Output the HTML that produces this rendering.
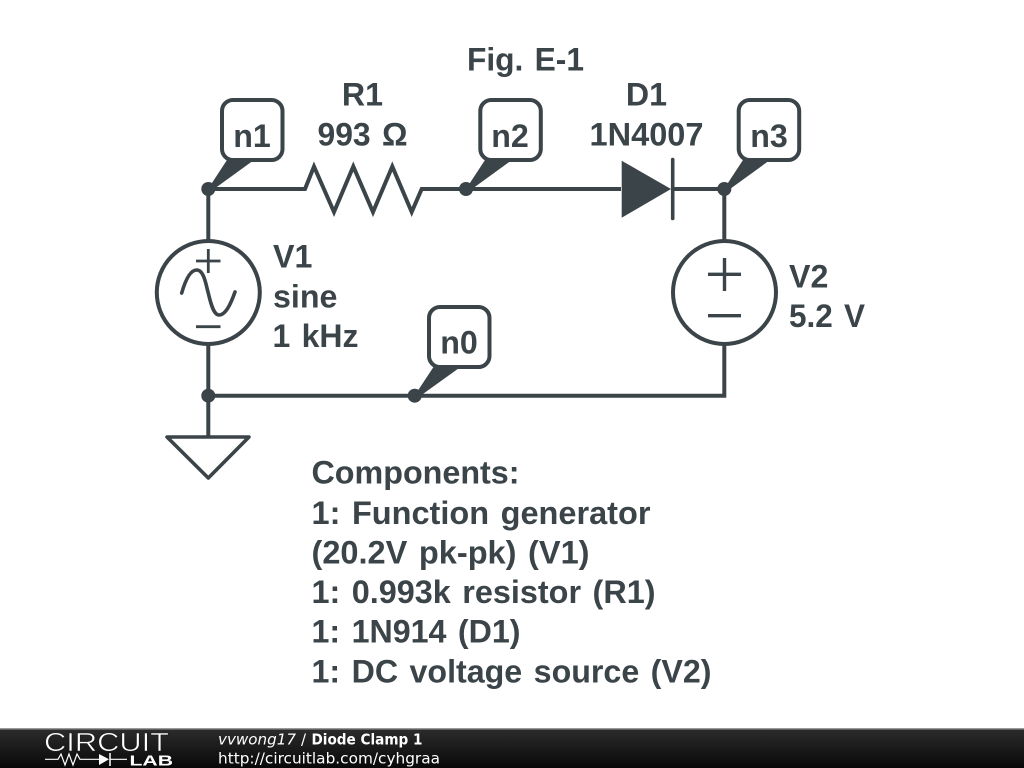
<!DOCTYPE html>
<html><head><meta charset="utf-8"><style>
html,body{margin:0;padding:0;background:#fff;width:1024px;height:768px;overflow:hidden}
svg{display:block}
.t{font-family:"Liberation Sans",sans-serif;font-weight:bold;font-size:32.2px;word-spacing:2.5px;fill:#3b4448}
.f{font-family:"DejaVu Sans",sans-serif;font-size:15px;fill:#fff}
</style></head><body>
<svg width="1024" height="768" viewBox="0 0 1024 768" xmlns="http://www.w3.org/2000/svg">
<defs><linearGradient id="g" x1="0" y1="0" x2="0" y2="1"><stop offset="0" stop-color="#2c2c2c"/><stop offset="1" stop-color="#080808"/></linearGradient></defs>
<rect width="1024" height="768" fill="#fff"/>
<g fill="none" stroke="#3b4448" stroke-width="4" stroke-linejoin="miter">
<path d="M208.300 189H305L314 166.500L334 212L353.300 166.500L373 212L392.300 166.500L411.700 212L421.700 189H621M672 189H724.300V240M724.300 345V395.700H208.300M208.300 189V240M208.300 345V436"/>
<circle cx="208.300" cy="292.500" r="51.500"/>
<circle cx="724.500" cy="292.500" r="51.500"/>
<path d="M167 437H249L208.300 478Z" stroke-linejoin="round" stroke-width="3.600"/>
<path d="M196 261H220.500M208.300 249V273M196 326.700H220.500" stroke-width="2.800"/>
<path d="M181.700 293C186 278 191 270 196.700 270C204 270 206 285 208 292C210 300 213 315 219 315C226 315 231 303 235 292" stroke-linecap="round" stroke-width="3.600"/>
<path d="M708 274.300H741M724.500 258V291M708 315.700H741" stroke-width="3.400"/>
<path d="M672.700 159.500V218.500" stroke-linecap="round" stroke-width="3.600"/>
<rect x="222" y="100" width="60.500" height="60" rx="11" fill="#fff"/>
<rect x="480.300" y="100" width="60.500" height="60" rx="11" fill="#fff"/>
<rect x="738.700" y="100" width="60.500" height="60" rx="11" fill="#fff"/>
<rect x="429" y="307" width="60.500" height="60" rx="11" fill="#fff"/>
</g>
<g fill="#3b4448">
<path d="M621.700 160.700L671 189L621.700 217.700Z"/>
<circle cx="208.300" cy="189" r="7"/><circle cx="466" cy="189" r="7"/><circle cx="724.300" cy="189" r="7"/><circle cx="208.300" cy="395.700" r="7"/><circle cx="414.700" cy="395.700" r="7"/>
<path d="M227 160H254L214 189H208Z"/>
<path d="M485 160H512L472 189H466Z"/>
<path d="M743 160H770L730 189H724Z"/>
<path d="M433.500 367H460.500L420.500 395.700H414.500Z"/>
</g>
<text class="t" x="467" y="70.500" textLength="117" lengthAdjust="spacingAndGlyphs">Fig. E-1</text>
<text class="t" x="362.500" y="105.500" text-anchor="middle">R1</text>
<text class="t" x="317.500" y="145.500" textLength="90" lengthAdjust="spacingAndGlyphs">993 Ω</text>
<text class="t" x="646.500" y="105.500" text-anchor="middle">D1</text>
<text class="t" x="589.500" y="145.500" textLength="114" lengthAdjust="spacingAndGlyphs">1N4007</text>
<text class="t" x="252" y="147" text-anchor="middle">n1</text>
<text class="t" x="510" y="147" text-anchor="middle">n2</text>
<text class="t" x="769" y="147" text-anchor="middle">n3</text>
<text class="t" x="459" y="353.500" text-anchor="middle">n0</text>
<text class="t" x="273" y="267.500">V1</text>
<text class="t" x="273" y="307.500">sine</text>
<text class="t" x="272.500" y="347" textLength="86" lengthAdjust="spacingAndGlyphs">1 kHz</text>
<text class="t" x="789" y="287.500">V2</text>
<text class="t" x="789" y="327" textLength="76" lengthAdjust="spacingAndGlyphs">5.2 V</text>
<text class="t" x="311.500" y="483.500" textLength="208" lengthAdjust="spacingAndGlyphs">Components:</text>
<text class="t" x="311.500" y="524" textLength="339" lengthAdjust="spacingAndGlyphs">1: Function generator</text>
<text class="t" x="311.500" y="563.500" textLength="278" lengthAdjust="spacingAndGlyphs">(20.2V pk-pk) (V1)</text>
<text class="t" x="311.500" y="603" textLength="344" lengthAdjust="spacingAndGlyphs">1: 0.993k resistor (R1)</text>
<text class="t" x="311.500" y="642.500" textLength="209" lengthAdjust="spacingAndGlyphs">1: 1N914 (D1)</text>
<text class="t" x="311.500" y="682.500" textLength="400" lengthAdjust="spacingAndGlyphs">1: DC voltage source (V2)</text>
<rect x="0" y="729" width="1024" height="39" fill="url(#g)"/>
<rect x="0" y="728" width="1024" height="1.500" fill="#999"/>
<text class="f" x="218" y="744.500" font-style="italic" textLength="78" lengthAdjust="spacingAndGlyphs">vvwong17</text>
<text class="f" x="301" y="744.500">/</text>
<text class="f" x="311.500" y="744.500" font-weight="bold" textLength="111" lengthAdjust="spacingAndGlyphs">Diode Clamp 1</text>
<text class="f" x="218" y="763.500" textLength="222" lengthAdjust="spacingAndGlyphs">http://circuitlab.com/cyhgraa</text>
<text x="44" y="751" font-family="'Liberation Sans',sans-serif" font-size="25.500" fill="#fff" stroke="#1c1c1c" stroke-width="0.600" textLength="125" lengthAdjust="spacingAndGlyphs">CIRCUIT</text>
<path d="M45 759.300H58L61 754L65 765L69 754L73 765L77 754L80 759.300H99M110 759.300H127" fill="none" stroke="#fff" stroke-width="1.200"/>
<path d="M99 754L109 759.300L99 765Z" fill="#fff"/>
<path d="M110 753V766" stroke="#fff" stroke-width="1.500"/>
<text x="129.500" y="765.500" font-family="'Liberation Sans',sans-serif" font-size="15" font-weight="bold" fill="#fff" textLength="43.500" lengthAdjust="spacingAndGlyphs">LAB</text>
</svg>
</body></html>
